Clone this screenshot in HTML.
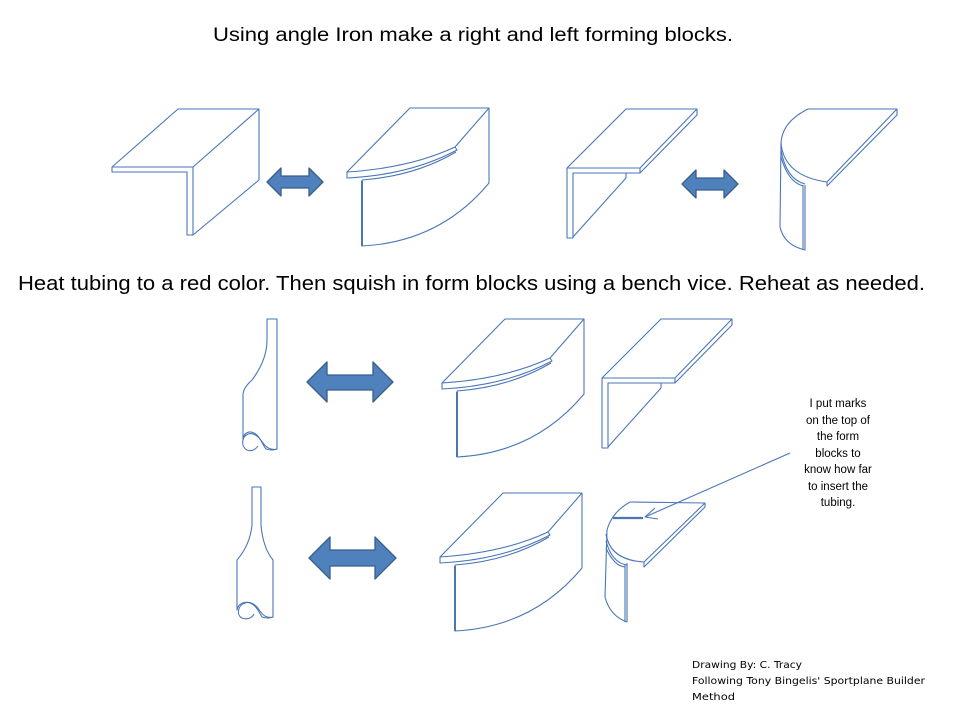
<!DOCTYPE html>
<html><head><meta charset="utf-8"><style>
html,body{margin:0;padding:0;background:#fff;}
svg{display:block;}
text{font-family:"Liberation Sans",sans-serif;fill:#000;}
</style></head><body>
<svg width="960" height="720" viewBox="0 0 960 720" xmlns="http://www.w3.org/2000/svg">
<g fill="none" stroke="#4a76b8" stroke-width="1.1" stroke-linejoin="round">
<!-- Block 1 angle iron -->
<path d="M112,167 L178,109 L259,109 L193,167 L112,167 Z"/>
<path d="M112,167 L112,172 L187,172 L187,235 L193,235 L193,167"/>
<path d="M193,235 L259,180 L259,109"/>
<!-- Block 2 curved -->
<g id="cb">
<path d="M347,172 L410,108 L489,108 L455,147 Q410,168 347,172 Z"/>
<path d="M347,172 L347,178 Q410,175 457,150 L455,147"/>
<path d="M362,180 Q415,176 456,152"/>
<path d="M362,180 L362,246 Q440,242 489,183 L489,108"/>
<path d="M362,181 L362,246" stroke-width="2"/>
</g>
<use href="#cb" transform="translate(95,211)"/>
<use href="#cb" transform="translate(93,385)"/>
<!-- Block 3 angle iron right -->
<g id="ab">
<path d="M567,168 L626,109 L697,109 L640,168 Z"/>
<path d="M640,168 L640,173 L697,115 L697,109"/>
<path d="M567,168 L567,238 L573,238 L573,173 L640,173"/>
<path d="M626,173 L626,178 L573,237"/>
</g>
<use href="#ab" transform="translate(35,210)"/>
<!-- Block 4 curved right -->
<path d="M808,109 L897,109 L827,182 L827,186 L897,115 L897,109"/>
<path d="M808,109 Q782,122 781,143 L780,227 Q784,245 805,250 L805,185"/>
<path d="M781,143 Q784,176 827,182"/>
<path d="M781,150 Q786,179 805,184"/>
<path d="M781,157 Q788,182 803,186"/>
<path d="M803,185 L803,250"/>
<!-- Block 6 curved right -->
<path d="M630,502 L705,503 L644,562 L644,567 L705,507 L705,503"/>
<path d="M630,502 Q612,512 607,530 L605,597 Q610,616 627,622 L627,563"/>
<path d="M606,534 Q610,560 644,562"/>
<path d="M606,541 Q612,563 627,565"/>
<path d="M606,548 Q614,566 625,567"/>
<path d="M625,565 L625,622"/>
<path d="M613,518 L643,518" stroke-width="2.2"/>
<path d="M790,453 L645,517"/>
<path d="M655,508 L645,517 L658,519"/>
<!-- Tube 1 -->
<path d="M267,319 L277,319 L277,449 Q272,451 266,449 C262,444 260,436 254,433 C248,430 243,434 243,440 L243,395 Q243,388 252,380 Q267,360 267,340 Z"/>
<path d="M277,449 C270,451 265,446 263,443 C259,437 254,432 248,434 C241,437 241,447 247,450 C252,452 256,449 258,446"/>
<!-- Tube 2 -->
<path d="M252,487 L261,487 L261,525 Q263,548 273,560 L273,617 Q268,619 262,617 C259,612 256,605 250,603 C244,601 238,604 237,610 L237,560 Q250,545 252,525 Z"/>
<path d="M273,617 C266,619 262,614 260,611 C256,605 251,601 245,603 C238,605 236,615 242,618 C247,620 252,618 254,614"/>
</g>
<!-- double arrows -->
<g fill="#4f81bd" stroke="#385d8a" stroke-width="1.3" stroke-linejoin="round">
<path d="M267,182 L281,168 L281,176 L309,176 L309,168 L323,182 L309,196 L309,188 L281,188 L281,196 Z"/>
<path d="M682,184 L696,170 L696,178 L724,178 L724,170 L738,184 L724,198 L724,190 L696,190 L696,198 Z"/>
<path d="M307,382 L327,362 L327,375 L373,375 L373,362 L393,382 L373,402 L373,390 L327,390 L327,402 Z"/>
<path d="M309,558 L330,537 L330,550 L375,550 L375,537 L396,558 L375,579 L375,566 L330,566 L330,579 Z"/>
</g>
<text x="213" y="41" font-size="19" textLength="520" lengthAdjust="spacingAndGlyphs">Using angle Iron make a right and left forming blocks.</text>
<text x="18" y="290" font-size="20" textLength="907" lengthAdjust="spacingAndGlyphs">Heat tubing to a red color.  Then squish in form blocks using a bench vice.  Reheat as needed.</text>
<g font-size="11.5" text-anchor="middle">
<text x="838" y="407">I put marks</text>
<text x="838" y="424">on the top of</text>
<text x="838" y="440">the form</text>
<text x="838" y="457">blocks to</text>
<text x="838" y="473">know how far</text>
<text x="838" y="490">to insert the</text>
<text x="838" y="506">tubing.</text>
</g>
<g font-size="10">
<text x="692" y="668" textLength="110" lengthAdjust="spacingAndGlyphs" style="font-family:'DejaVu Sans',sans-serif">Drawing By: C. Tracy</text>
<text x="692" y="684" textLength="233" lengthAdjust="spacingAndGlyphs" style="font-family:'DejaVu Sans',sans-serif">Following Tony Bingelis' Sportplane Builder</text>
<text x="692" y="700" textLength="43" lengthAdjust="spacingAndGlyphs" style="font-family:'DejaVu Sans',sans-serif">Method</text>
</g>
</svg>
</body></html>
